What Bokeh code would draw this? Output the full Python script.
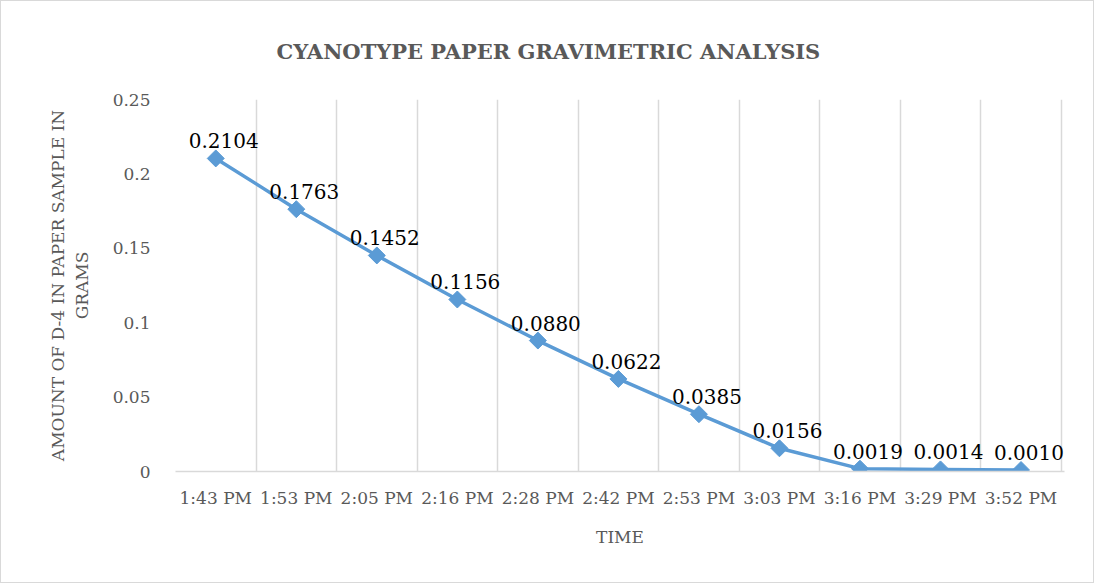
from bokeh.plotting import figure
from bokeh.models import FixedTicker, Range1d, ColumnDataSource, Grid, LabelSet
from bokeh.core.properties import value
from bokeh.embed import file_html
from bokeh.resources import INLINE
import numpy as np

categories = ["1:43 PM", "1:53 PM", "2:05 PM", "2:16 PM", "2:28 PM", "2:42 PM",
              "2:53 PM", "3:03 PM", "3:16 PM", "3:29 PM", "3:52 PM"]
values = [0.2104, 0.1763, 0.1452, 0.1156, 0.0880, 0.0622, 0.0385, 0.0156, 0.0019, 0.0014, 0.0010]
y_ticks = [0, 0.05, 0.1, 0.15, 0.2, 0.25]
y_tick_labels = ["0", "0.05", "0.1", "0.15", "0.2", "0.25"]

xs = [i + 0.5 for i in range(len(categories))]
src = ColumnDataSource(dict(x=xs, y=values, lab=["%.4f" % v for v in values]))

FONT = "DejaVu Serif"
GRAY = "#595959"
BLUE = "#5B9BD5"

p = figure(width=1094, height=583, output_backend="svg", toolbar_location=None,
           x_range=Range1d(0, len(categories) + 0.04), y_range=Range1d(0, 0.25),
           min_border_left=174, min_border_right=31, min_border_top=98, min_border_bottom=113,
           title="CYANOTYPE PAPER GRAVIMETRIC ANALYSIS")
p.outline_line_color = None
p.styles = {"border": "1px solid #D9D9D9"}

p.title.text_font = FONT
p.title.text_font_size = "21px"
p.title.text_font_style = "bold"
p.title.text_color = GRAY
p.title.align = "left"
p.title.offset = 101
p.title.standoff = 71

p.ygrid.visible = False
p.xgrid.visible = False
p.add_layout(Grid(dimension=0, ticker=FixedTicker(ticks=list(range(len(categories) + 1))),
                  grid_line_color="#D9D9D9", grid_line_width=1.5))

xa = p.xaxis[0]
xa.ticker = FixedTicker(ticks=xs)
xa.major_label_overrides = {x: c for x, c in zip(xs, categories)}
xa.axis_line_color = "#D9D9D9"
xa.axis_line_width = 1.5
xa.major_tick_line_color = None
xa.minor_tick_line_color = None
xa.major_label_text_font = FONT
xa.major_label_text_font_size = "17px"
xa.major_label_text_color = GRAY
xa.major_label_standoff = 10
xa.axis_label = "TIME"
xa.axis_label_text_font = FONT
xa.axis_label_text_font_size = "17px"
xa.axis_label_text_font_style = "normal"
xa.axis_label_text_color = GRAY
xa.axis_label_standoff = 16

ya = p.yaxis[0]
ya.ticker = FixedTicker(ticks=y_ticks)
ya.major_label_overrides = {t: l for t, l in zip(y_ticks, y_tick_labels)}
ya.axis_line_color = None
ya.major_tick_line_color = None
ya.minor_tick_line_color = None
ya.major_label_text_font = FONT
ya.major_label_text_font_size = "17px"
ya.major_label_text_color = GRAY
ya.major_label_standoff = 19
ya.axis_label = "AMOUNT OF D-4 IN PAPER SAMPLE IN\nGRAMS"
ya.axis_label_text_font = FONT
ya.axis_label_text_font_size = "17px"
ya.axis_label_text_font_style = "normal"
ya.axis_label_text_color = GRAY
ya.axis_label_standoff = 18

p.line("x", "y", source=src, line_color=BLUE, line_width=3.5)
p.scatter("x", "y", source=src, marker="square", size=12, angle=np.pi / 4,
          fill_color=BLUE, line_color=BLUE)
p.add_layout(LabelSet(x="x", y="y", text="lab", source=src, text_font=value(FONT),
                      text_font_size="20px", text_color="black", text_align="center",
                      text_baseline="alphabetic", x_offset=8, y_offset=10))

open("out.html", "w").write(file_html(p, INLINE))
